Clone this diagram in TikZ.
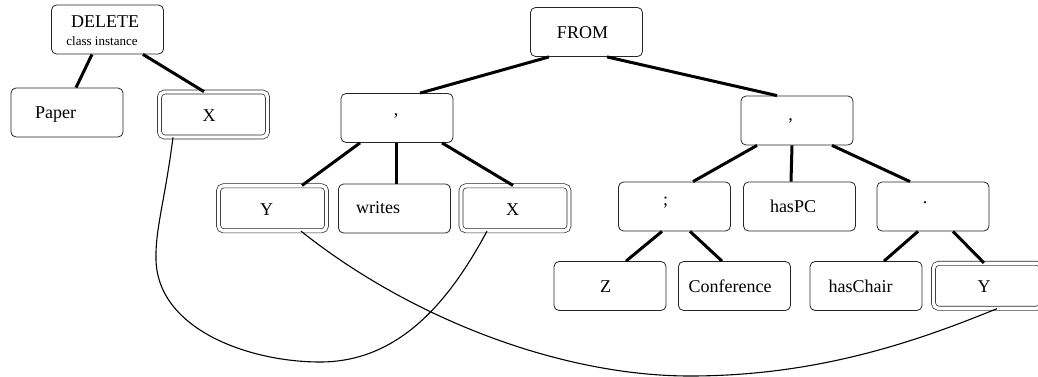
\documentclass[tikz,border=0pt]{standalone}
\usepackage{fontspec}
\setmainfont{Liberation Serif}
\begin{document}
\begin{tikzpicture}[x=1pt,y=-1pt,
  box/.style={draw=black!85, line width=0.8pt, rounded corners=5pt,
    minimum width=112pt, minimum height=49pt, inner sep=0pt},
  dbox/.style={draw=black!85, line width=0.7pt, double, double distance=3.4pt,
    rounded corners=5pt, minimum width=108pt, minimum height=45pt, inner sep=0pt},
  txt/.style={anchor=base, inner sep=0pt, font=\fontsize{18}{20}\selectfont},
  small/.style={anchor=base, inner sep=0pt, font=\fontsize{13}{15}\selectfont},
  tree/.style={line width=3pt},
  link/.style={line width=1.1pt}]
\useasboundingbox (0,0) rectangle (1038,377);

% boxes
\node[box]  (delete)   at (107.5,29.5) {};
\node[box]  (paper)    at (67,112.5) {};
\node[dbox] (x1)       at (213.5,114.5) {};
\node[box]  (from)     at (586.5,32) {};
\node[box]  (cl)       at (397,118) {};
\node[box]  (cr)       at (797,120.5) {};
\node[dbox] (y1)       at (272.5,208.3) {};
\node[box]  (writes)   at (394.5,208.5) {};
\node[dbox] (x2)       at (515,208.3) {};
\node[box]  (semi)     at (674.5,206.5) {};
\node[box]  (haspc)    at (799.5,206.5) {};
\node[box]  (dot)      at (933,206.5) {};
\node[box]  (z)        at (610,286) {};
\node[box]  (conf)     at (734.5,286) {};
\node[box]  (haschair) at (866,286) {};
\node[dbox] (y2)       at (987.5,285.8) {};

% labels
\node[txt]   (delete-t)   at (105.2,28) {DELETE};
\node[small] (delete-s)   at (102,45.5) {class instance};
\node[txt]   (paper-t)    at (55.5,118) {Paper};
\node[txt]   (x1-t)       at (209,121.7) {X};
\node[txt]   (from-t)     at (582.5,38.3) {FROM};
\node[txt]   (cl-t)       at (396,115.7) {,};
\node[txt]   (cr-t)       at (790.7,120.5) {,};
\node[txt]   (y1-t)       at (266.7,215) {Y};
\node[txt]   (writes-t)   at (378,213.5) {writes};
\node[txt]   (x2-t)       at (512.5,215) {X};
\node[txt]   (semi-t)     at (665.7,205) {;};
\node[txt]   (haspc-t)    at (793,212.5) {hasPC};
\node[txt]   (dot-t)      at (925,203) {.};
\node[txt]   (z-t)        at (605.5,292.5) {Z};
\node[txt]   (conf-t)     at (730,292.5) {Conference};
\node[txt]   (haschair-t) at (860.5,292.5) {hasChair};
\node[txt]   (y2-t)       at (984,292.5) {Y};

% tree edges
\draw[tree] ([xshift=-15.5pt]delete.south) -- ([xshift=9pt]paper.north);
\draw[tree] ([xshift=35.5pt]delete.south) -- ([xshift=-9.5pt]x1.north);
\draw[tree] ([xshift=-37.5pt]from.south) -- ([xshift=23pt]cl.north);
\draw[tree] ([xshift=20.5pt]from.south) -- ([xshift=-20pt]cr.north);
\draw[tree] ([xshift=-37pt]cl.south) -- ([xshift=29.5pt]y1.north);
\draw[tree] ([xshift=-1pt]cl.south) -- ([xshift=1.5pt]writes.north);
\draw[tree] ([xshift=45pt]cl.south) -- ([xshift=-2pt]x2.north);
\draw[tree] ([xshift=-40pt]cr.south) -- ([xshift=18.5pt]semi.north);
\draw[tree] ([xshift=-5pt]cr.south) -- ([xshift=-8.5pt]haspc.north);
\draw[tree] ([xshift=35pt]cr.south) -- ([xshift=-23pt]dot.north);
\draw[tree] ([xshift=-12.5pt]semi.south) -- ([xshift=16pt]z.north);
\draw[tree] ([xshift=15.5pt]semi.south) -- ([xshift=-12.5pt]conf.north);
\draw[tree] ([xshift=-15pt]dot.south) -- ([xshift=18pt]haschair.north);
\draw[tree] ([xshift=20pt]dot.south) -- ([xshift=-3.5pt]y2.north);

% variable links
\draw[link] ([xshift=-40.5pt]x1.south)
  .. controls (165,200) and (155,230) .. (156,260)
  .. controls (158,330) and (250,362) .. (320,362)
  .. controls (400,362) and (450,300) .. ([xshift=-28pt]x2.south);
\draw[link] ([xshift=28.5pt]y1.south)
  .. controls (410,318) and (560,376) .. (690,376)
  .. controls (820,376) and (920,340) .. ([xshift=9.5pt]y2.south);
\end{tikzpicture}
\end{document}
